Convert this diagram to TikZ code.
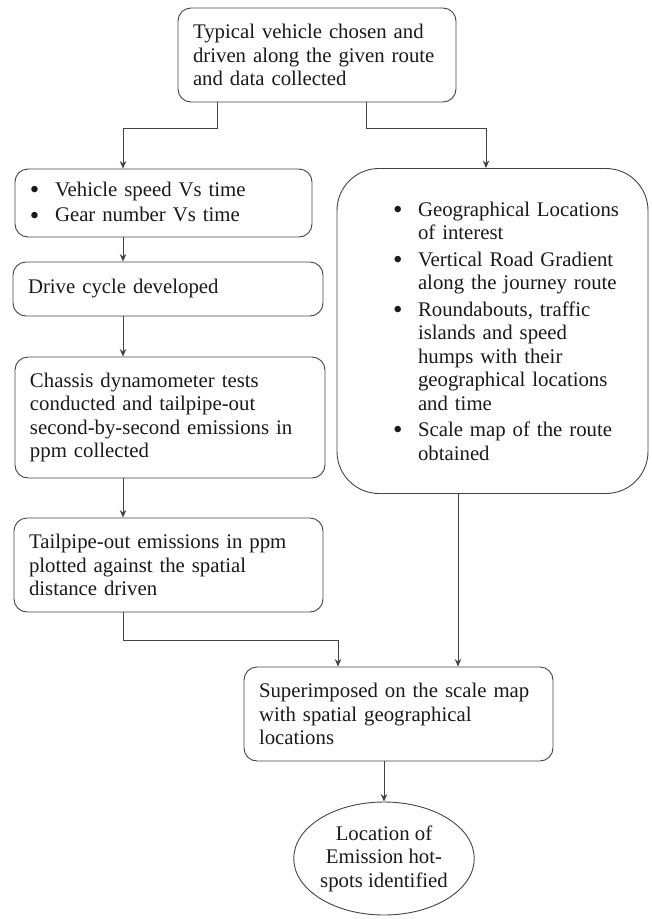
\documentclass[tikz,border=0pt]{standalone}
\usepackage{fontspec}
\setmainfont{Liberation Serif}
\usetikzlibrary{arrows.meta,shapes.geometric}
\definecolor{linegray}{HTML}{444444}
\definecolor{textgray}{HTML}{1A1A1A}
\newcommand{\bul}{\makebox[25pt][l]{\raisebox{-2.2pt}{\fontsize{27}{0}\selectfont\textbullet}}}
\newcommand{\ind}{\hspace*{25pt}}
\begin{document}
\begin{tikzpicture}[x=1pt,y=-1pt,>={Stealth[length=7.5pt,width=6.5pt]},
  box/.style={draw=linegray,line width=0.9pt,rounded corners=13pt,inner xsep=15pt,inner ysep=0pt,align=left,text=textgray,font=\fontsize{20.8}{23.5}\selectfont},
  flow/.style={->,draw=linegray,line width=0.9pt}]
\useasboundingbox[fill=white] (0,0) rectangle (652,919);
\node[box,text width=248pt,minimum height=94pt] (chosen) at (317,55) {Typical vehicle chosen and\\driven along the given route\\and data collected};
\node[box,text width=267pt,minimum height=68pt] (speed) at (163.5,203) {\bul Vehicle speed Vs time\\[2pt]\bul Gear number Vs time};
\node[box,text width=280pt,minimum height=54pt] (cycle) at (168,289) {Drive cycle developed};
\node[box,text width=280pt,minimum height=121pt] (chassis) at (170,417.5) {Chassis dynamometer tests\\conducted and tailpipe-out\\second-by-second emissions in\\ppm collected};
\node[box,text width=279pt,minimum height=94pt] (tailpipe) at (168.5,565) {Tailpipe-out emissions in ppm\\plotted against the spatial\\distance driven};
\node[box,rounded corners=42pt,text width=281pt,minimum height=325pt] (map) at (492.5,331)
  {\hspace*{41pt}\bul Geographical Locations\\
   \hspace*{41pt}\ind of interest\\[3pt]
   \hspace*{41pt}\bul Vertical Road Gradient\\
   \hspace*{41pt}\ind along the journey route\\[3pt]
   \hspace*{41pt}\bul Roundabouts, traffic\\
   \hspace*{41pt}\ind islands and speed\\
   \hspace*{41pt}\ind humps with their\\
   \hspace*{41pt}\ind geographical locations\\
   \hspace*{41pt}\ind and time\\[3pt]
   \hspace*{41pt}\bul Scale map of the route\\
   \hspace*{41pt}\ind obtained};
\node[box,text width=279pt,minimum height=94pt] (super) at (398.5,714) {Superimposed on the scale map\\with spatial geographical\\locations};
\node[box,ellipse,inner sep=0pt,align=center,minimum width=178pt,minimum height=113pt] (hot) at (384,858.5) {Location of\\Emission hot-\\spots identified};
\coordinate (lcol) at (123,0);
\draw[flow] ([xshift=-100pt]chosen.south) -- ++(0,26) -| (speed.north -| lcol);
\draw[flow] ([xshift=49pt]chosen.south) -- ++(0,26) -| ([xshift=-6.5pt]map.north);
\draw[flow] (speed.south -| lcol) -- (cycle.north -| lcol);
\draw[flow] (cycle.south -| lcol) -- (chassis.north -| lcol);
\draw[flow] (chassis.south -| lcol) -- (tailpipe.north -| lcol);
\draw[flow] (tailpipe.south -| lcol) -- ++(0,28) -| ([xshift=-60.5pt]super.north);
\draw[flow] ([xshift=-34.5pt]map.south) -- ([xshift=59.5pt]super.north);
\draw[flow] (super.south -| hot.north) -- (hot.north);
\end{tikzpicture}
\end{document}
